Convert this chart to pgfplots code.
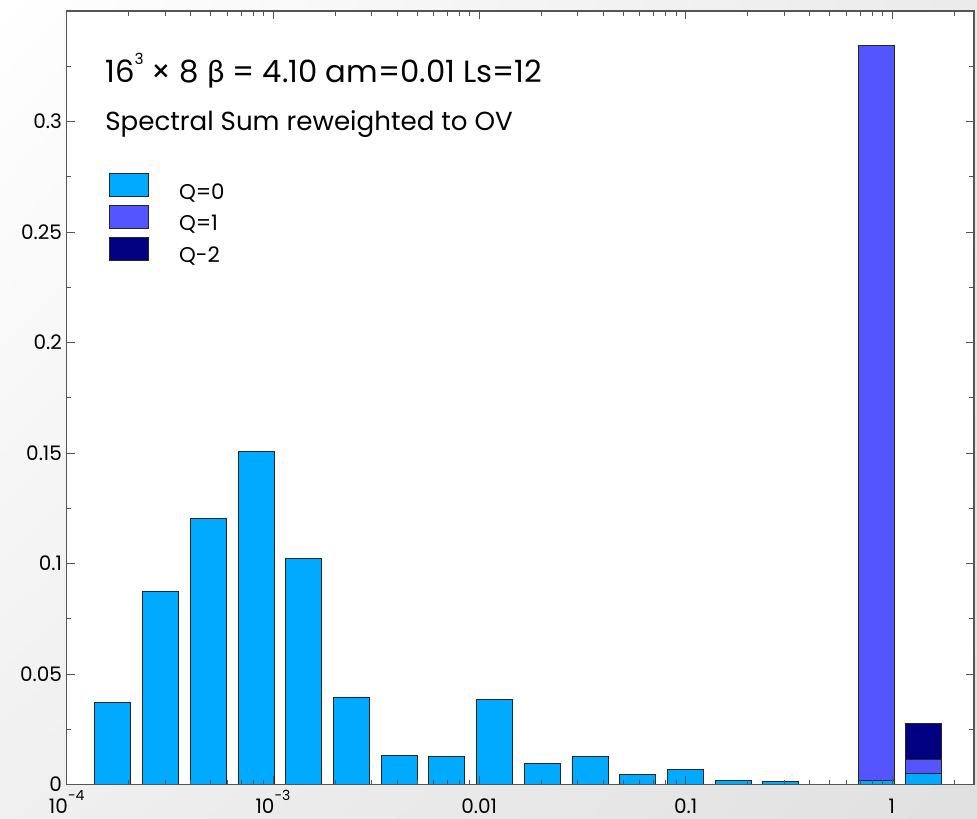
\documentclass[border=0pt]{standalone}
\usepackage{fontspec}
\setmainfont{Poppins}
\newfontfamily\greekfont{Lato}
\usepackage{pgfplots}
\usepackage{pgfplotstable}
\pgfplotsset{compat=1.18}
\usetikzlibrary{calc,backgrounds,shadings}

\definecolor{qzero}{RGB}{0,170,255}
\definecolor{qone}{RGB}{85,85,255}
\definecolor{qtwo}{RGB}{0,0,128}
\definecolor{framegray}{RGB}{85,85,85}

% superscript used in the tick labels
\newcommand{\tsup}[1]{\raisebox{9.5pt}{\fontsize{10.5}{11}\selectfont #1}}

% Q=0 sector: bin centre, height
\pgfplotstableread{
x y
1.676e-4 0.0371
2.855e-4 0.0872
4.861e-4 0.1205
8.283e-4 0.1505
1.410e-3 0.1022
2.402e-3 0.0396
4.090e-3 0.0130
6.965e-3 0.0125
1.186e-2 0.0384
2.020e-2 0.0096
3.440e-2 0.0127
5.858e-2 0.0044
9.977e-2 0.0067
0.1699 0.0016
0.2893 0.0013
0.8393 0.0018
1.429 0.0048
}\qzerotab

% Q=1 sector, cumulative top
\pgfplotstableread{
x y
0.8393 0.3346
1.429 0.0114
}\qonetab

% Q=2 sector, cumulative top
\pgfplotstableread{
x y
1.429 0.0274
}\qtwotab

\begin{document}
\begin{tikzpicture}
\begin{axis}[
  scale only axis,
  width=680.5pt, height=580.1pt,
  xmode=log, log basis x=10,
  xmin=1e-4, xmax=2.5, ymin=0, ymax=0.35,
  axis on top,
  axis background/.style={fill=white},
  axis line style={framegray, line width=0.8pt},
  every tick/.style={framegray, line width=0.6pt},
  tick align=inside,
  major tick length=6pt, minor tick length=3.5pt,
  xtick={1e-4,1e-3,1e-2,1e-1,1},
  xticklabels={10\tsup{−4},10\tsup{−3},0.01,0.1,1},
  minor xtick={2e-4,3e-4,4e-4,5e-4,6e-4,7e-4,8e-4,9e-4,
               2e-3,3e-3,4e-3,5e-3,6e-3,7e-3,8e-3,9e-3,
               0.02,0.03,0.04,0.05,0.06,0.07,0.08,0.09,
               0.2,0.3,0.4,0.5,0.6,0.7,0.8,0.9,2},
  ytick={0,0.05,0.1,0.15,0.2,0.25,0.3},
  yticklabels={0,0.05,0.1,0.15,0.2,0.25,0.3},
  minor ytick={0.025,0.075,0.125,0.175,0.225,0.275,0.325},
  ticklabel style={font=\fontsize{15}{17}\selectfont},
  xticklabel style={anchor=base, yshift=-21.5pt},
  legend style={at={(rel axis cs:0.0466,0.791)}, anchor=north west,
    draw=none, fill=none, inner sep=0pt, row sep=0.75pt,
    font=\fontsize{16}{18}\selectfont,
    /tikz/every odd column/.append style={column sep=20.7pt}},
  legend cell align=left,
  reverse legend,
  sector/.style={ybar, bar width=27pt, bar shift=0pt,
    draw=black!85, line width=0.65pt,
    legend image code/.code={\draw[##1, line width=0.65pt] (0pt,-3pt) rectangle (29pt,14.25pt);}},
]
\addplot[sector, fill=qtwo] table {\qtwotab};
\addlegendentry{Q-2}
\addplot[sector, fill=qone] table {\qonetab};
\addlegendentry{Q=1}
\addplot[sector, fill=qzero] table {\qzerotab};
\addlegendentry{Q=0}

\node[anchor=base west, font=\fontsize{23}{26}\selectfont, inner sep=0pt]
  at (rel axis cs:0.0423,0.907)
  {16\raisebox{13.5pt}{\fontsize{11.5}{12}\selectfont 3} × 8 {\greekfont β} = 4.10 am=0.01 Ls=12};
\node[anchor=base west, font=\fontsize{19.6}{22}\selectfont, inner sep=0pt]
  at (rel axis cs:0.0423,0.845) {Spectral Sum reweighted to OV};
\end{axis}
\begin{scope}[on background layer]
  \shade[upper left=white, upper right=black!8, lower left=black!6, lower right=black!12]
    ($(current axis.south west)+(-50pt,-25.9pt)$) rectangle ($(current axis.north east)+(2.25pt,8.25pt)$);
\end{scope}
\pgfresetboundingbox
\path[use as bounding box] ($(current axis.south west)+(-50pt,-25.9pt)$) rectangle ($(current axis.north east)+(2.25pt,8.25pt)$);
\end{tikzpicture}
\end{document}
